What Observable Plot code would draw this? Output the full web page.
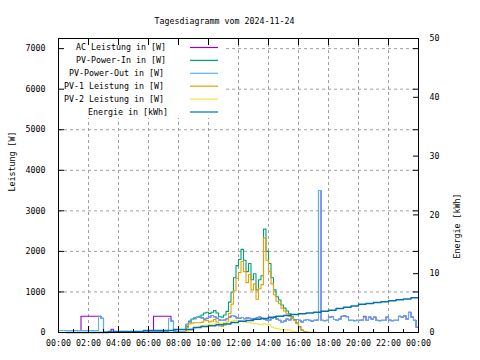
<!DOCTYPE html>
<html><head><meta charset="utf-8">
<script src="https://cdn.jsdelivr.net/npm/d3@7"></script>
<script src="https://cdn.jsdelivr.net/npm/@observablehq/plot@0.6"></script>
<style>body{margin:0;background:#fff}</style>
</head><body><div id="chart"></div>
<script>
const title = "Tagesdiagramm vom 2024-11-24";
const seriesNames = ["AC Leistung in [W]", "PV-Power-In in [W]", "PV-Power-Out in [W]", "PV-1 Leistung in [W]", "PV-2 Leistung in [W]", "Energie in [kWh]"];
const seriesColors = ["#9400d3", "#009e73", "#56b4e9", "#e69f00", "#f0e442", "#0072b2"];
const yLabelLeft = "Leistung [W]";
const yLabelRight = "Energie [kWh]";
const leftTicks = [0, 1000, 2000, 3000, 4000, 5000, 6000, 7000];
const rightTicks = [0, 10, 20, 30, 40, 50];
const xTickHours = [0, 2, 4, 6, 8, 10, 12, 14, 16, 18, 20, 22, 24];
const leftMax = 7250, rightMax = 50;

// 10-minute samples starting 00:00
const sampleStart = "00:00", sampleStepMin = 10;
const acLeistung = [
  50,50,50,50,50,50,50,50,50,400,400,400,
  400,400,400,400,400,350,25,25,25,80,25,25,
  25,25,25,25,25,25,25,25,25,25,25,25,
  25,25,400,400,400,400,400,400,400,280,40,25,
  25,25,25,200,250,320,340,370,380,360,330,350,
  380,420,390,350,310,300,310,340,380,420,400,360,
  350,370,340,360,350,330,340,360,380,350,330,300,
  310,350,380,330,300,250,280,330,310,350,300,320,
  300,260,300,320,300,280,300,310,3500,300,290,300,
  380,390,320,300,330,400,410,390,300,300,290,300,
  300,310,400,300,380,330,380,300,290,300,300,380,
  310,290,300,300,400,380,410,330,500,380,300,130,
  130];
const pvPowerOut = [
  50,50,50,50,50,50,50,50,50,50,50,50,
  50,50,50,50,400,350,25,25,25,25,25,25,
  25,25,25,25,25,25,25,25,25,25,25,25,
  25,25,25,25,25,25,25,25,340,280,40,25,
  25,25,25,200,250,320,340,370,380,360,330,350,
  380,420,390,350,310,300,310,340,380,420,400,360,
  350,370,340,360,350,330,340,360,380,350,330,300,
  310,350,380,330,300,250,280,330,310,350,300,320,
  300,260,300,320,300,280,300,310,3500,300,290,300,
  380,390,320,300,330,400,410,390,300,300,290,300,
  300,310,380,300,380,330,380,300,290,300,300,380,
  310,290,300,300,400,380,410,330,500,380,300,130,
  130];

// PV series, 10-minute samples starting 08:20
const pvStart = "08:20";
const pvPowerIn = [
  0,150,280,330,360,380,400,430,480,500,
  470,500,540,480,390,380,430,520,750,1000,1350,1650,
  1800,2050,1780,1500,1700,1300,1450,1050,1300,1400,2550,2000,
  1700,1350,1050,880,800,680,600,530,460,390,320,230,
  140,60,15,0,0,0,0,0];
const pv1Leistung = [
  0,120,210,230,240,240,240,250,290,300,
  260,280,320,260,160,150,180,260,470,700,1030,1330,
  1480,1750,1500,1230,1430,1050,1200,820,1080,1180,2330,1780,
  1500,1200,930,770,710,600,530,460,400,360,300,220,
  140,60,20,10,5,5,5,0];
const pv2Leistung = [
  0,20,60,90,110,130,150,170,180,190,
  200,205,210,215,225,230,240,255,270,285,300,300,
  290,280,260,250,240,230,220,215,200,190,215,200,
  190,130,110,95,80,70,65,65,60,30,20,5,
  0,0,0,0,0,0,0,0];

// Energy (kWh), step change points
const energieTimes = ["00:30","03:20","05:40","07:40","09:00","09:30","10:00","10:30","11:00","11:30","12:00","12:30","13:00","13:30","14:00","14:30","15:00","15:30","16:00","16:30","17:00","17:30","18:00","18:30","19:00","19:30","20:00","20:30","21:00","21:30","22:00","22:30","23:00","23:30","24:00"];
const energieKWh = [0,0.17,0.34,0.5,0.85,1.0,1.15,1.3,1.45,1.7,1.9,2.05,2.25,2.4,2.6,2.75,2.9,3.05,3.2,3.3,3.45,3.6,3.8,4.1,4.3,4.5,4.8,4.95,5.1,5.25,5.4,5.55,5.7,5.9,5.9];

const K = leftMax / rightMax; // W per kWh on shared scale
const toHours = s => { const [h, m] = s.split(":").map(Number); return h + m / 60; };
const sampled = (vals, start) => vals.map((v, k) => ({h: toHours(start) + k * sampleStepMin / 60, v}));
const seriesData = [
  sampled(acLeistung, sampleStart),
  sampled(pvPowerIn, pvStart),
  sampled(pvPowerOut, sampleStart),
  sampled(pv1Leistung, pvStart),
  sampled(pv2Leistung, pvStart),
  energieTimes.map((t, k) => ({h: toHours(t), v: energieKWh[k] * K}))
];
const fmtHour = d => String(d % 24).padStart(2, "0") + ":00";
const grid = {stroke: "#a0a0a0", strokeOpacity: 1, strokeDasharray: "3,3"};
const noText = () => "";

const chart = Plot.plot({
  width: 480, height: 360,
  marginTop: 38, marginBottom: 28, marginLeft: 58, marginRight: 62,
  style: {fontFamily: "'DejaVu Sans Mono', monospace", fontSize: "8.3px", color: "black", background: "white"},
  x: {domain: [0, 24]},
  y: {domain: [0, leftMax]},
  marks: [
    Plot.gridY(leftTicks.slice(1), grid),
    Plot.gridX(xTickHours.slice(1, -1), grid),
    ...seriesData.map((d, i) => Plot.line(d, {x: "h", y: "v", stroke: seriesColors[i], strokeWidth: i === 5 ? 1.5 : 1.1, curve: "step-after"})),
    Plot.axisX({ticks: xTickHours, tickFormat: fmtHour, tickSize: -6, tickPadding: 14, label: null}),
    Plot.axisX({ticks: d3.range(1, 24, 2), tickSize: -3, tickFormat: noText, label: null}),
    Plot.axisX({anchor: "top", ticks: xTickHours, tickSize: -6, tickFormat: noText, label: null}),
    Plot.axisY({ticks: leftTicks, tickSize: -6, tickPadding: 19, tickFormat: d => String(d), label: null}),
    Plot.axisY({anchor: "right", ticks: leftTicks, tickSize: -6, tickFormat: noText, label: null}),
    Plot.axisY({anchor: "right", ticks: rightTicks.map(k => k * K), tickFormat: d => String(Math.round(d / K)), tickSize: -6, tickPadding: 17, label: null}),
    Plot.text([title], {frameAnchor: "top", dx: -14, dy: -20}),
    Plot.text([yLabelLeft], {frameAnchor: "left", dx: -46, dy: 6, rotate: -90}),
    Plot.text([yLabelRight], {frameAnchor: "right", dx: 39, dy: 8, rotate: -90})
  ]
});
document.getElementById("chart").append(chart);

// legend (opaque key box in top-left of plot area)
const svg = d3.select(chart);
const leg = svg.append("g").attr("font-family", "'DejaVu Sans Mono', monospace").attr("font-size", "8.3px").attr("text-anchor", "start");
leg.append("rect").attr("x", 58).attr("y", 38).attr("width", 167).attr("height", 80).attr("fill", "white");
const legendTextStart = [76, 76, 69, 64, 64, 88];
seriesNames.forEach((name, i) => {
  const y = 47.5 + i * 12.9;
  leg.append("text").attr("x", legendTextStart[i]).attr("y", y).attr("dy", "0.32em").attr("fill", "black").attr("text-anchor", "start").text(name);
  leg.append("line").attr("x1", 190).attr("x2", 218).attr("y1", y).attr("y2", y).attr("stroke", seriesColors[i]).attr("stroke-width", 1.2);
});
// frame on top
svg.append("rect").attr("x", 58.5).attr("y", 38.5).attr("width", 360).attr("height", 294).attr("fill", "none").attr("stroke", "black");
// re-raise axis ticks above the legend box
svg.selectAll("g[aria-label$='axis tick']").raise();
</script>
</body></html>
